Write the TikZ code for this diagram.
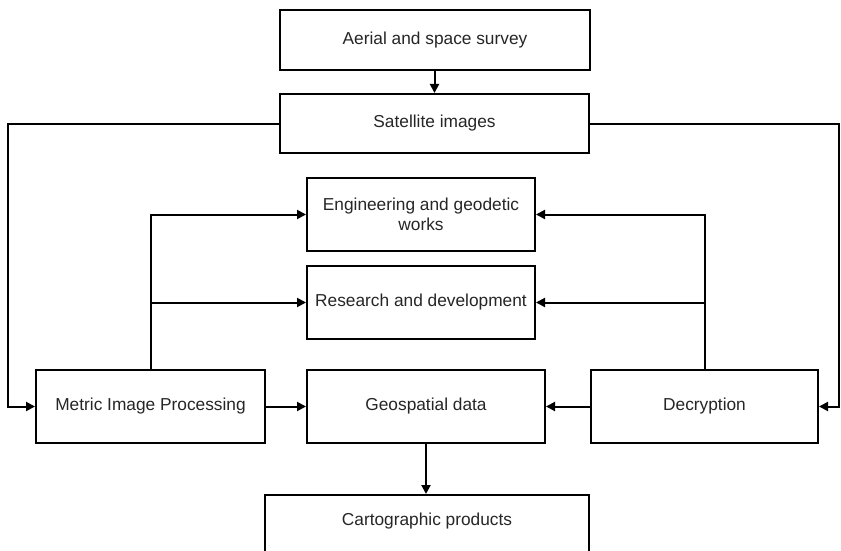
\documentclass[tikz,border=0pt]{standalone}
\usepackage{fontspec}
\setmainfont{Liberation Sans}
\usetikzlibrary{arrows.meta}
\begin{document}
\begin{tikzpicture}[x=1pt,y=-1pt,
  txt/.style={font=\fontsize{17.3}{20}\selectfont, text=black!85},
  box/.style={draw=black, line width=2pt, inner sep=0pt, align=center, txt},
  arr/.style={line width=2pt, -{Triangle[length=9pt,width=9pt]}}]
\clip (0,0) rectangle (841,551);
\useasboundingbox (0,0) rectangle (841,551);
\fill[white] (0,0) rectangle (841,551);
\node[box, minimum width=310pt, minimum height=60pt] (aer) at (435,40) {Aerial and space survey};
\node[box, minimum width=309pt, minimum height=59pt] (sat) at (434.5,123.5) {Satellite images};
\node[box, minimum width=228pt, minimum height=73pt] (eng) at (421,214.5) {Engineering and geodetic\\works};
\node[box, minimum width=228pt, minimum height=73pt] (res) at (421,302.5) {Research and development};
\node[box, minimum width=229pt, minimum height=73pt] (met) at (150.5,406.5) {Metric Image Processing};
\node[box, minimum width=238pt, minimum height=73pt] (geo) at (426,406.5) {Geospatial data};
\node[box, minimum width=227pt, minimum height=73pt] (dec) at (704.5,406.5) {Decryption};
\node[box, minimum width=324pt, minimum height=130pt] (car) at (427,560) {};
\node[txt] (cartext) at (427,521) {Cartographic products};
\coordinate (lt) at (8,123.5);
\coordinate (rt) at (839,123.5);
\coordinate (ml) at (150.5,302.5);
\coordinate (dl) at (704.5,302.5);
\draw[arr] (aer.south -| sat.north) -- (sat.north);
\draw[arr] (sat.west) -- (lt) |- (met.west);
\draw[arr] (sat.east) -- (rt) |- (dec.east);
\draw[arr] (met.north) |- (eng.west);
\draw[arr] (ml) -- (res.west);
\draw[arr] (dec.north) |- (eng.east);
\draw[arr] (dl) -- (res.east);
\draw[arr] (met.east) -- (geo.west);
\draw[arr] (dec.west) -- (geo.east);
\draw[arr] (geo.south) -- (geo.south |- car.north);
\end{tikzpicture}
\end{document}
